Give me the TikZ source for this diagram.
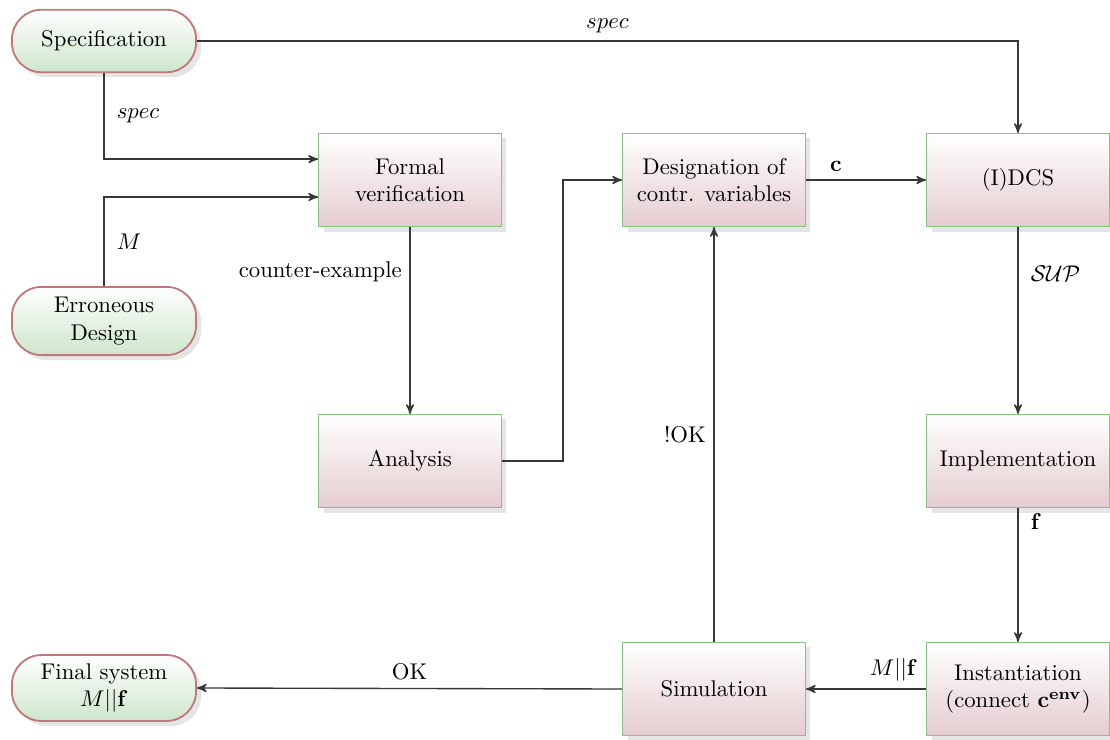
\documentclass[tikz,border=0pt]{standalone}
\usepackage{amsmath}
\usepackage{amssymb}
\usepackage{xcolor}
\usetikzlibrary{shapes.geometric, arrows, shadows, calc}

\definecolor{boxtop}{RGB}{255,255,255}
\definecolor{boxbot}{RGB}{228,204,207}
\definecolor{boxline}{RGB}{130,196,128}
\definecolor{termbot}{RGB}{206,230,204}
\definecolor{termline}{RGB}{192,120,126}
\definecolor{wire}{RGB}{55,55,55}

\begin{document}
\begin{tikzpicture}[x=0.44pt, y=0.44pt,
  block/.style={draw=boxline, top color=boxtop, bottom color=boxbot,
    minimum width=80.5pt, minimum height=41pt, align=center,
    drop shadow={shadow xshift=2.2pt, shadow yshift=-2.2pt, fill=gray!40}},
  term/.style={draw=termline, thick, rounded corners=13pt, top color=white,
    bottom color=termbot, minimum width=81pt, minimum height=27.5pt, align=center,
    drop shadow={shadow xshift=2.2pt, shadow yshift=-2.2pt, fill=gray!40}},
  flow/.style={draw=wire, semithick, ->, >=stealth'}]
\useasboundingbox (0,0) rectangle (1110,739);

% Inputs and output
\node[term] (spec) at (104,698) {Specification};
\node[term, minimum height=30pt] (err) at (104,418) {Erroneous\\Design};
\node[term, minimum height=29pt] (final) at (104,51) {Final system\\$M||\mathbf{f}$};

% Processing steps
\node[block] (fv) at (410,559) {Formal\\verification};
\node[block] (desig) at (714,559) {Designation of\\contr. variables};
\node[block] (idcs) at (1018,559) {(I)DCS};
\node[block] (ana) at (410,278) {Analysis};
\node[block] (impl) at (1018,278) {Implementation};
\node[block] (sim) at (714,50) {Simulation};
\node[block] (inst) at (1018,50) {Instantiation\\(connect $\mathbf{c^{env}}$)};

% Connections
\draw[flow] (spec.east) -| node[pos=0.25, above] {$spec$} (idcs.north);
\draw[flow] (spec.south) |- node[pos=0.25, right, xshift=2pt] {$spec$} ([yshift=9.2pt]fv.west);
\draw[flow] (err.north) |- node[pos=0.25, right, xshift=2pt] {$M$} ([yshift=-7.5pt]fv.west);
\draw[flow] (fv.south) -- node[pos=0.24, left] {counter-example} (ana.north);
\draw[flow] (ana.east) -- ++(61,0) |- (desig.west);
\draw[flow] (desig.east) -- node[pos=0.25, above] {$\mathbf{c}$} (idcs.west);
\draw[flow] (idcs.south) -- node[pos=0.25, right, xshift=2pt] {$\mathcal{SUP}$} (impl.north);
\draw[flow] (impl.south) -- node[pos=0.1, right, xshift=2pt] {$\mathbf{f}$} (inst.north);
\draw[flow] (inst.west) -- node[pos=0.27, above] {$M||\mathbf{f}$} (sim.east);
\draw[flow] (sim.north) -- node[midway, left] {!OK} (desig.south);
\draw[flow] (sim.west) -- node[midway, above] {OK} (final.east);
\end{tikzpicture}
\end{document}
